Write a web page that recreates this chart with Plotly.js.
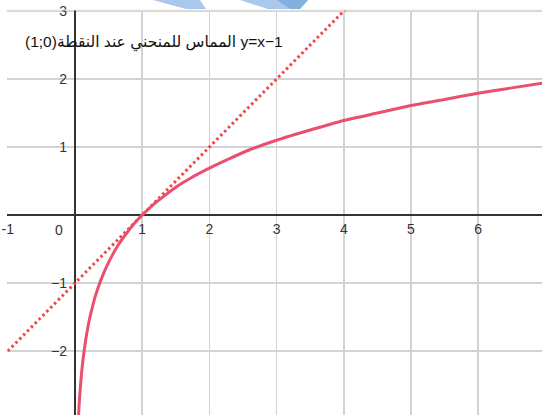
<!DOCTYPE html>
<html>
<head>
<meta charset="utf-8">
<script src="https://cdn.plot.ly/plotly-3.0.1.min.js"></script>
<style>html,body{margin:0;padding:0;background:#fff;}#chart{width:542px;height:415px;}</style>
</head>
<body>
<div id="chart"></div>
<script>
// Curve values
var curveX = [0.053, 0.06, 0.07, 0.08, 0.09, 0.1, 0.12, 0.14, 0.16, 0.19, 0.22, 0.26, 0.3, 0.35, 0.4, 0.47, 0.55, 0.65, 0.75, 0.87, 1, 1.15, 1.3, 1.5, 1.75, 2, 2.3, 2.6, 3, 3.5, 4, 4.5, 5, 5.5, 6, 6.5, 6.95];
var curveY = [-2.94, -2.81, -2.66, -2.53, -2.41, -2.3, -2.12, -1.97, -1.83, -1.66, -1.51, -1.35, -1.2, -1.05, -0.92, -0.76, -0.6, -0.43, -0.29, -0.14, 0, 0.14, 0.26, 0.41, 0.56, 0.69, 0.83, 0.96, 1.1, 1.25, 1.39, 1.5, 1.61, 1.7, 1.79, 1.87, 1.94];
// Tangent line y = x - 1 (end points)
var tangentX = [-1, 4.03];
var tangentY = [-2, 3.03];
// Tick labels
var xTickVals = [-1, 1, 2, 3, 4, 5, 6];
var xTickText = ['-1', '1', '2', '3', '4', '5', '6'];
var yTickVals = [-2, -1, 1, 2, 3];
var yTickText = ['\u22122', '\u22121', '1', '2', '3'];
var titleText = '\u202By=x\u22121 المماس للمنحني عند النقطة(\u202A1;0\u202C)\u202C';

var xRange = [-1.012, 6.95];
var yRange = [-2.94, 3.015];

var W = 542, H = 415, L = 7, T = 10;
function px(x){ return (x - L) / (W - L); }
function py(y){ return 1 + (T - y) / (H - T); }

var traces = [
  {x: tangentX, y: tangentY, mode: 'lines', line: {color: '#f2434a', width: 3, dash: '2.5px,3px'}, hoverinfo: 'skip'},
  {x: curveX, y: curveY, mode: 'lines', line: {color: '#e8506e', width: 3, shape: 'spline', smoothing: 0.5}, hoverinfo: 'skip'}
];

var axisFont = {family: 'Liberation Sans, Arial, sans-serif', size: 14, color: '#333'};

var layout = {
  width: W, height: H,
  margin: {l: L, r: 0, t: T, b: 0},
  paper_bgcolor: '#ffffff', plot_bgcolor: '#ffffff',
  showlegend: false,
  xaxis: {
    range: xRange, tickvals: xTickVals, ticktext: xTickText,
    showgrid: true, gridcolor: '#d3d3d3', gridwidth: 1.5,
    zeroline: true, zerolinecolor: '#333', zerolinewidth: 1.8,
    showline: false, ticks: '', tickfont: axisFont, ticklabelstandoff: 4,
    anchor: 'free', position: (0 - yRange[0]) / (yRange[1] - yRange[0]),
    fixedrange: true
  },
  yaxis: {
    range: yRange, tickvals: yTickVals, ticktext: yTickText,
    showgrid: true, gridcolor: '#d3d3d3', gridwidth: 1.5,
    zeroline: true, zerolinecolor: '#333', zerolinewidth: 1.8,
    showline: false, ticks: '', tickfont: axisFont, ticklabelstandoff: 8,
    anchor: 'free', position: (0 - xRange[0]) / (xRange[1] - xRange[0]),
    fixedrange: true
  },
  annotations: [
    {x: -0.24, y: 0, xref: 'x', yref: 'y', text: '0', showarrow: false, yanchor: 'top', yshift: -5, font: axisFont},
    {x: px(23), y: py(42), xref: 'paper', yref: 'paper', xanchor: 'left', yanchor: 'middle', text: titleText, showarrow: false,
     font: {family: 'Liberation Sans, DejaVu Sans, sans-serif', size: 15.5, color: '#111'}}
  ],
  shapes: [
    {type: 'line', xref: 'paper', yref: 'paper', x0: 0, x1: 1, y0: 1, y1: 1, line: {color: '#ececec', width: 1}},
    {type: 'path', xref: 'paper', yref: 'paper', layer: 'above', fillcolor: '#a9c8ec', line: {width: 0},
     path: 'M' + px(153) + ',' + py(0) + ' L' + px(200) + ',' + py(0) + ' L' + px(206) + ',' + py(9) + ' L' + px(186) + ',' + py(9) + ' Z'},
    {type: 'path', xref: 'paper', yref: 'paper', layer: 'above', fillcolor: '#a9c8ec', line: {width: 0},
     path: 'M' + px(240) + ',' + py(0) + ' L' + px(308) + ',' + py(0) + ' L' + px(300) + ',' + py(9) + ' L' + px(268) + ',' + py(9) + ' Z'},
    {type: 'path', xref: 'paper', yref: 'paper', layer: 'above', fillcolor: '#84b0e0', line: {width: 0},
     path: 'M' + px(277) + ',' + py(0) + ' L' + px(308) + ',' + py(0) + ' L' + px(300) + ',' + py(9) + ' L' + px(290) + ',' + py(9) + ' Z'}
  ]
};

Plotly.newPlot('chart', traces, layout, {displayModeBar: false, staticPlot: true});
</script>
</body>
</html>
